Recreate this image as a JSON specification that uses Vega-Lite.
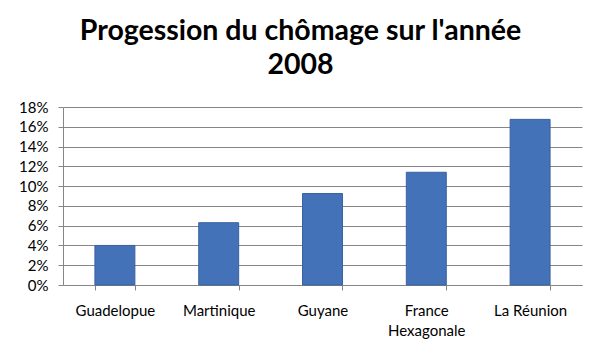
{
  "$schema": "https://vega.github.io/schema/vega-lite/v6.json",
  "autosize": "none",
  "width": 519,
  "height": 178,
  "padding": {"left": 63, "top": 107, "right": 18, "bottom": 74},
  "background": "white",
  "title": {
    "text": ["Progession du chômage sur l'année", "2008"],
    "font": "Lato",
    "fontSize": 28.5,
    "fontWeight": "bold",
    "color": "#000000",
    "lineHeight": 34,
    "anchor": "middle",
    "dx": -22,
    "offset": 21
  },
  "data": {
    "values": [
      {"region": "Guadelopue", "taux": 0.040},
      {"region": "Martinique", "taux": 0.063},
      {"region": "Guyane", "taux": 0.0925},
      {"region": "France Hexagonale", "taux": 0.114},
      {"region": "La Réunion", "taux": 0.1675}
    ]
  },
  "mark": {"type": "bar", "color": "#4472B8", "stroke": "#3A62A0", "strokeWidth": 1},
  "encoding": {
    "x": {
      "field": "region",
      "type": "nominal",
      "sort": null,
      "scale": {"paddingInner": 0.615, "paddingOuter": 0.3075},
      "axis": {
        "title": null,
        "labelAngle": 0,
        "labelFont": "Lato",
        "labelFontSize": 15,
        "labelColor": "#000000",
        "labelPadding": 13,
        "tickBand": "extent",
        "tickSize": 5,
        "tickColor": "#868686",
        "domainColor": "#868686",
        "labelExpr": "datum.label == 'France Hexagonale' ? ['France', 'Hexagonale'] : datum.label",
        "labelLineHeight": 20
      }
    },
    "y": {
      "field": "taux",
      "type": "quantitative",
      "scale": {"domain": [0, 0.18], "nice": false},
      "axis": {
        "title": null,
        "format": ".0%",
        "values": [0, 0.02, 0.04, 0.06, 0.08, 0.10, 0.12, 0.14, 0.16, 0.18],
        "labelFont": "Lato",
        "labelFontSize": 15,
        "labelColor": "#000000",
        "labelPadding": 10,
        "tickSize": 5,
        "tickColor": "#868686",
        "domainColor": "#868686",
        "gridColor": "#868686",
        "gridWidth": 1
      }
    }
  },
  "config": {"view": {"stroke": null}}
}
